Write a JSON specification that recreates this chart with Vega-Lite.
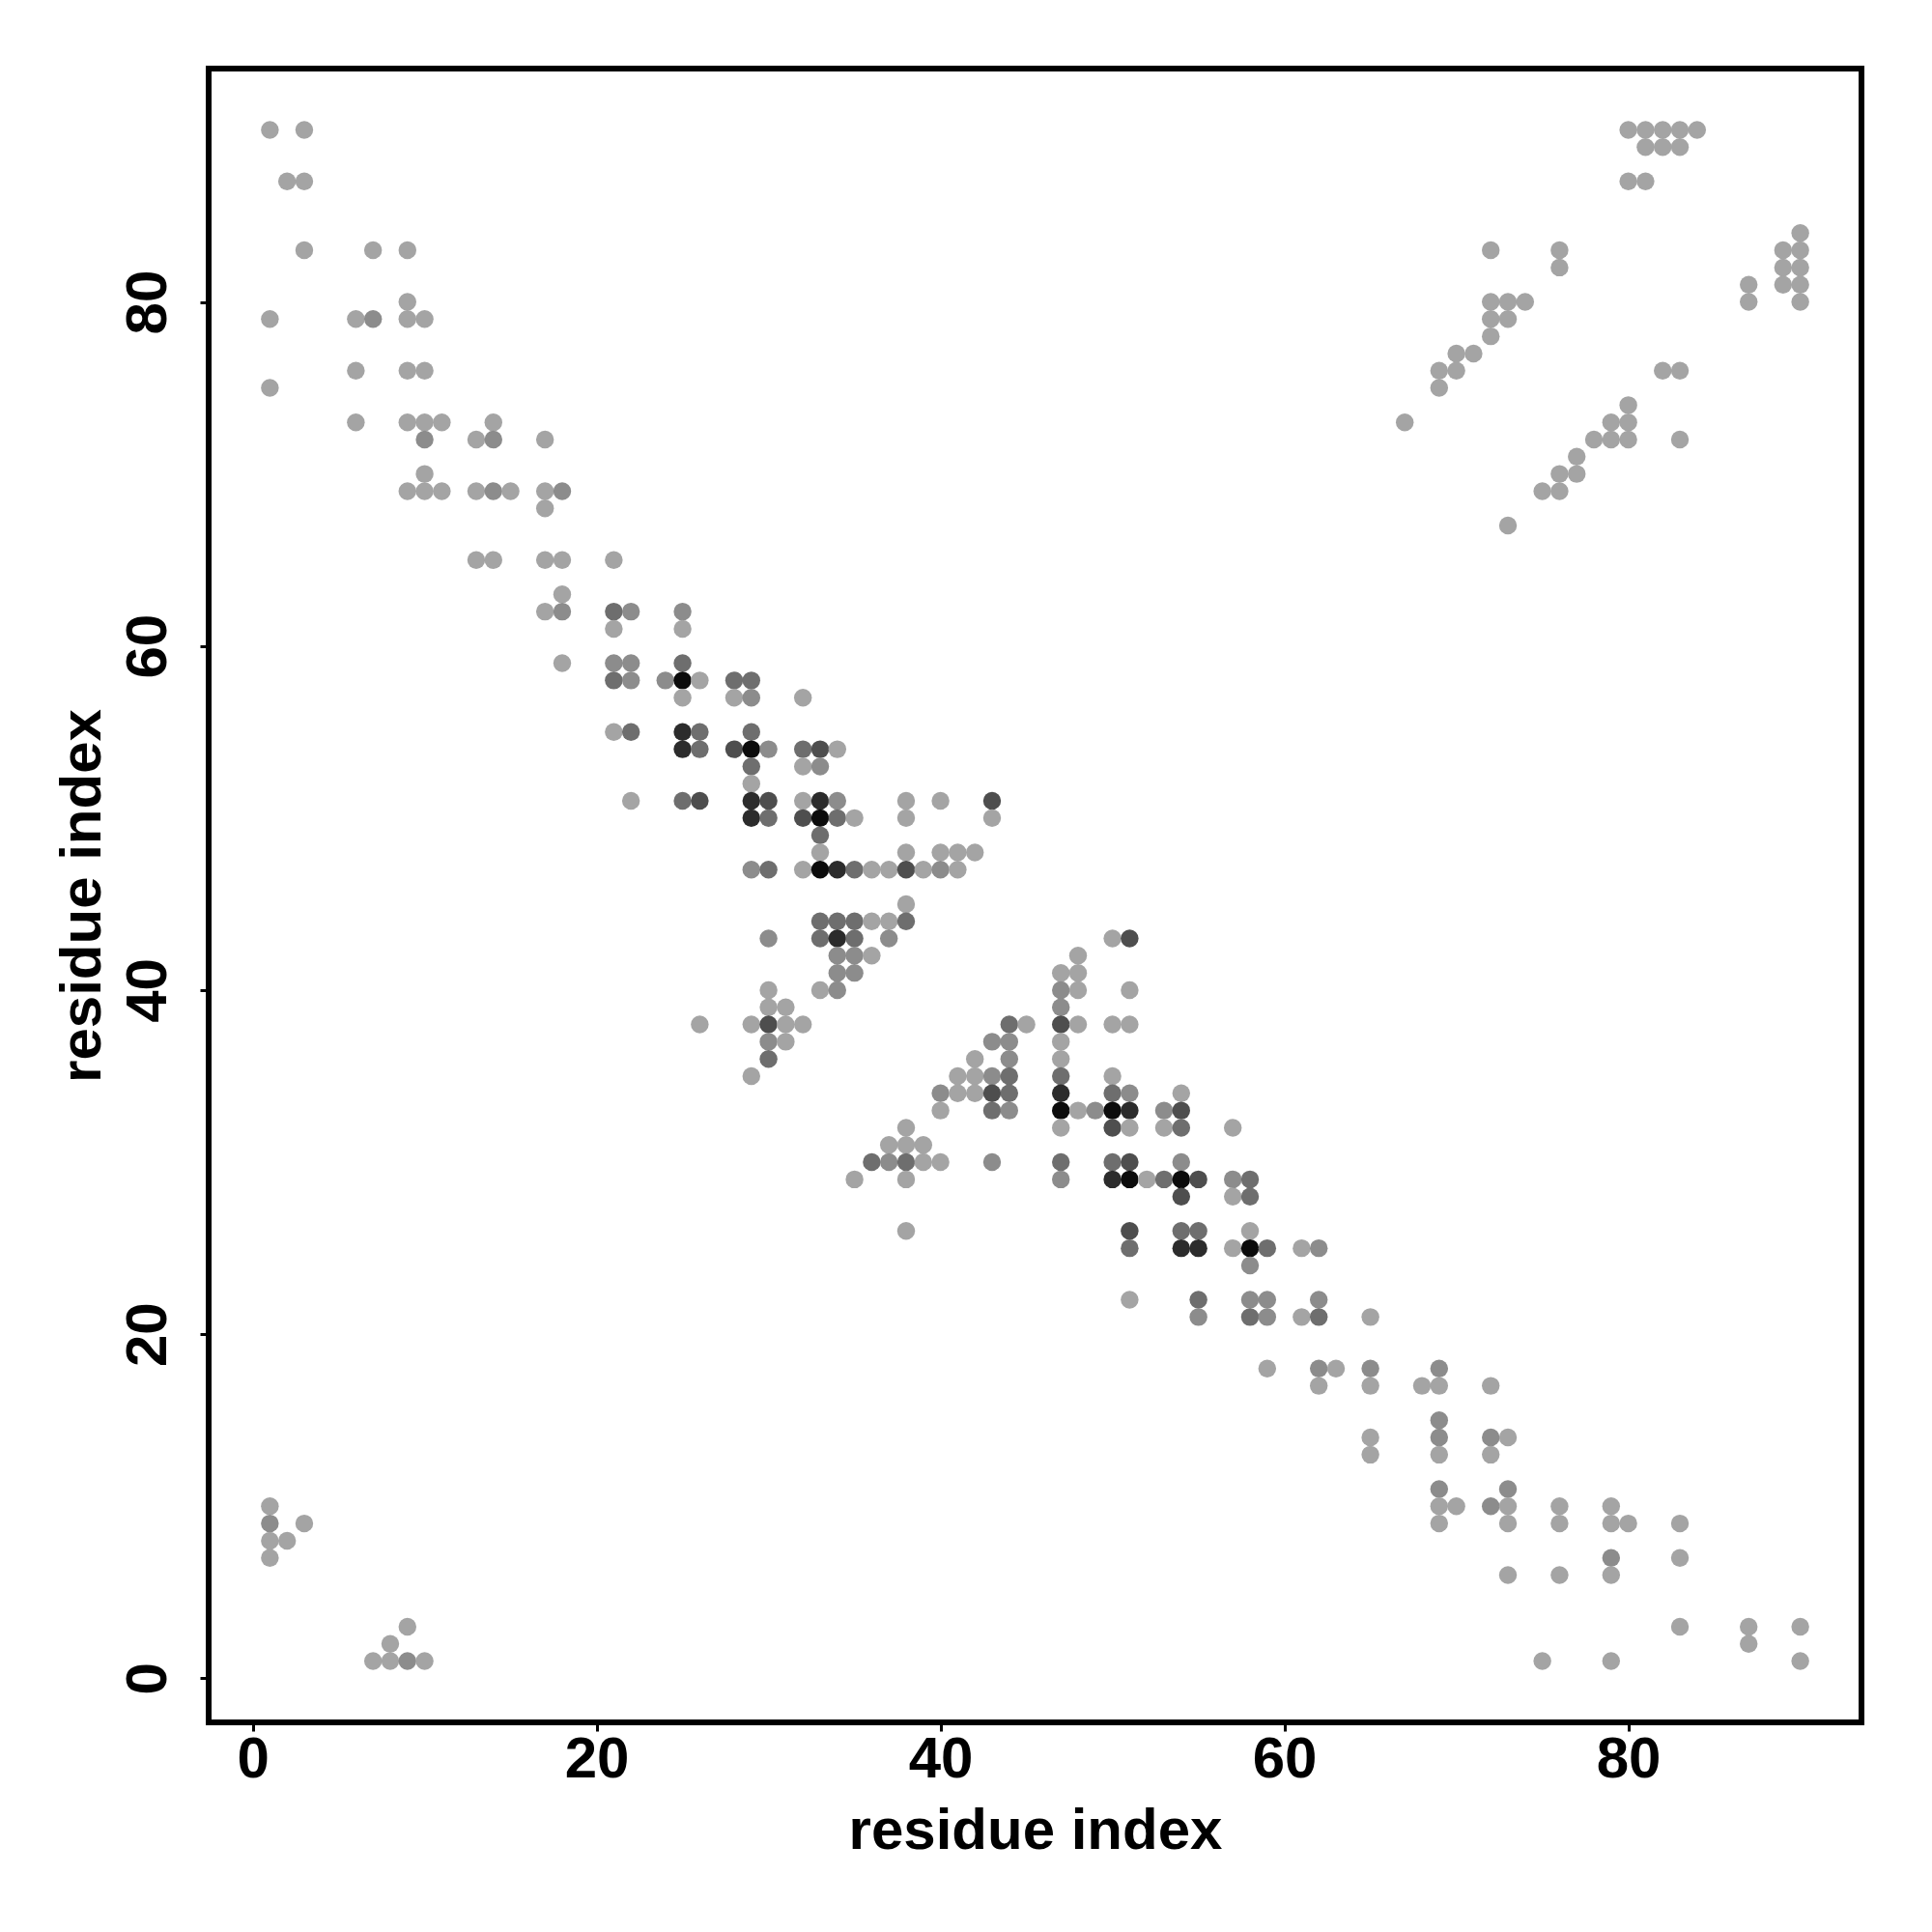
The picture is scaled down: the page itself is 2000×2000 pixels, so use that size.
{
  "$schema": "https://vega.github.io/schema/vega-lite/v6.json",
  "width": 1711,
  "height": 1712,
  "autosize": {"type": "none"},
  "padding": {"left": 216, "top": 71, "right": 73, "bottom": 217},
  "background": "white",
  "config": {
    "view": {"stroke": "black", "strokeWidth": 6},
    "axis": {
      "domain": false, "grid": false, "ticks": true,
      "tickColor": "black", "tickWidth": 3, "tickSize": 9,
      "labelFont": "Liberation Sans", "labelFontSize": 60, "labelFontWeight": "bold", "labelColor": "black",
      "titleFont": "Liberation Sans", "titleFontSize": 60, "titleFontWeight": "bold", "titleColor": "black"
    }
  },
  "data": {"values": [
    {"i":1,"j":90,"n":1},{"i":3,"j":90,"n":1},{"i":2,"j":87,"n":1},{"i":3,"j":87,"n":1},{"i":3,"j":83,"n":1},{"i":7,"j":83,"n":1},{"i":9,"j":83,"n":1},{"i":9,"j":80,"n":1},
    {"i":1,"j":79,"n":1},{"i":6,"j":79,"n":1},{"i":7,"j":79,"n":2},{"i":9,"j":79,"n":1},{"i":10,"j":79,"n":1},
    {"i":6,"j":76,"n":1},{"i":9,"j":76,"n":1},{"i":10,"j":76,"n":1},{"i":1,"j":75,"n":1},
    {"i":6,"j":73,"n":1},{"i":9,"j":73,"n":1},{"i":10,"j":73,"n":1},{"i":11,"j":73,"n":1},{"i":14,"j":73,"n":1},
    {"i":10,"j":72,"n":2},{"i":13,"j":72,"n":1},{"i":14,"j":72,"n":2},{"i":17,"j":72,"n":1},
    {"i":10,"j":70,"n":1},
    {"i":9,"j":69,"n":1},{"i":10,"j":69,"n":1},{"i":11,"j":69,"n":1},{"i":13,"j":69,"n":1},{"i":14,"j":69,"n":2},{"i":15,"j":69,"n":1},{"i":17,"j":69,"n":1},{"i":18,"j":69,"n":2},
    {"i":17,"j":68,"n":1},
    {"i":13,"j":65,"n":1},{"i":14,"j":65,"n":1},{"i":17,"j":65,"n":1},{"i":18,"j":65,"n":1},{"i":21,"j":65,"n":1},
    {"i":18,"j":63,"n":1},
    {"i":17,"j":62,"n":1},{"i":18,"j":62,"n":2},{"i":21,"j":62,"n":3},{"i":22,"j":62,"n":2},{"i":25,"j":62,"n":2},
    {"i":21,"j":61,"n":1},{"i":25,"j":61,"n":1},
    {"i":18,"j":59,"n":1},{"i":21,"j":59,"n":2},{"i":22,"j":59,"n":2},{"i":25,"j":59,"n":3},
    {"i":21,"j":58,"n":3},{"i":22,"j":58,"n":2},{"i":24,"j":58,"n":2},{"i":25,"j":58,"n":6},{"i":26,"j":58,"n":1},{"i":28,"j":58,"n":3},{"i":29,"j":58,"n":3},
    {"i":25,"j":57,"n":1},{"i":28,"j":57,"n":1},{"i":29,"j":57,"n":2},{"i":32,"j":57,"n":1},
    {"i":21,"j":55,"n":1},{"i":22,"j":55,"n":3},{"i":25,"j":55,"n":5},{"i":26,"j":55,"n":3},{"i":29,"j":55,"n":3},
    {"i":25,"j":54,"n":5},{"i":26,"j":54,"n":3},{"i":28,"j":54,"n":4},{"i":29,"j":54,"n":6},{"i":30,"j":54,"n":2},{"i":32,"j":54,"n":3},{"i":33,"j":54,"n":4},{"i":34,"j":54,"n":1},
    {"i":29,"j":53,"n":3},{"i":32,"j":53,"n":1},{"i":33,"j":53,"n":2},
    {"i":29,"j":52,"n":1},
    {"i":22,"j":51,"n":1},{"i":25,"j":51,"n":3},{"i":26,"j":51,"n":4},{"i":29,"j":51,"n":5},{"i":30,"j":51,"n":4},{"i":32,"j":51,"n":1},{"i":33,"j":51,"n":5},{"i":34,"j":51,"n":2},{"i":38,"j":51,"n":1},{"i":40,"j":51,"n":1},{"i":43,"j":51,"n":4},
    {"i":29,"j":50,"n":5},{"i":30,"j":50,"n":3},{"i":32,"j":50,"n":4},{"i":33,"j":50,"n":6},{"i":34,"j":50,"n":3},{"i":35,"j":50,"n":1},{"i":38,"j":50,"n":1},{"i":43,"j":50,"n":1},
    {"i":33,"j":49,"n":3},
    {"i":33,"j":48,"n":1},{"i":38,"j":48,"n":1},{"i":40,"j":48,"n":1},{"i":41,"j":48,"n":1},{"i":42,"j":48,"n":1},
    {"i":29,"j":47,"n":2},{"i":30,"j":47,"n":3},{"i":32,"j":47,"n":1},{"i":33,"j":47,"n":6},{"i":34,"j":47,"n":5},{"i":35,"j":47,"n":3},{"i":36,"j":47,"n":1},{"i":37,"j":47,"n":1},{"i":38,"j":47,"n":4},{"i":39,"j":47,"n":1},{"i":40,"j":47,"n":2},{"i":41,"j":47,"n":1},
    {"i":38,"j":45,"n":1},
    {"i":33,"j":44,"n":3},{"i":34,"j":44,"n":3},{"i":35,"j":44,"n":3},{"i":36,"j":44,"n":1},{"i":37,"j":44,"n":1},{"i":38,"j":44,"n":3},
    {"i":30,"j":43,"n":2},{"i":33,"j":43,"n":3},{"i":34,"j":43,"n":5},{"i":35,"j":43,"n":3},{"i":37,"j":43,"n":2},
    {"i":34,"j":42,"n":2},{"i":35,"j":42,"n":2},{"i":36,"j":42,"n":1},
    {"i":34,"j":41,"n":2},{"i":35,"j":41,"n":2},
    {"i":30,"j":40,"n":1},{"i":33,"j":40,"n":1},{"i":34,"j":40,"n":2},
    {"i":30,"j":39,"n":1},{"i":31,"j":39,"n":1},
    {"i":26,"j":38,"n":1},{"i":29,"j":38,"n":1},{"i":30,"j":38,"n":4},{"i":31,"j":38,"n":1},{"i":32,"j":38,"n":1},
    {"i":30,"j":37,"n":2},{"i":31,"j":37,"n":1},
    {"i":30,"j":36,"n":3},
    {"i":29,"j":35,"n":1},
    {"i":44,"j":38,"n":3},{"i":45,"j":38,"n":1},
    {"i":43,"j":37,"n":2},{"i":44,"j":37,"n":2},
    {"i":42,"j":36,"n":1},{"i":44,"j":36,"n":2},
    {"i":41,"j":35,"n":1},{"i":42,"j":35,"n":1},{"i":43,"j":35,"n":2},{"i":44,"j":35,"n":3},
    {"i":40,"j":34,"n":2},{"i":41,"j":34,"n":1},{"i":42,"j":34,"n":1},{"i":43,"j":34,"n":4},{"i":44,"j":34,"n":3},
    {"i":40,"j":33,"n":1},{"i":43,"j":33,"n":3},{"i":44,"j":33,"n":2},
    {"i":38,"j":32,"n":1},
    {"i":37,"j":31,"n":1},{"i":38,"j":31,"n":1},{"i":39,"j":31,"n":1},
    {"i":36,"j":30,"n":3},{"i":37,"j":30,"n":2},{"i":38,"j":30,"n":3},{"i":39,"j":30,"n":1},{"i":40,"j":30,"n":1},{"i":43,"j":30,"n":2},
    {"i":35,"j":29,"n":1},{"i":38,"j":29,"n":1},
    {"i":38,"j":26,"n":1},
    {"i":50,"j":43,"n":1},{"i":51,"j":43,"n":4},
    {"i":48,"j":42,"n":1},
    {"i":47,"j":41,"n":1},{"i":48,"j":41,"n":1},
    {"i":47,"j":40,"n":2},{"i":48,"j":40,"n":1},{"i":51,"j":40,"n":1},
    {"i":47,"j":39,"n":2},
    {"i":47,"j":38,"n":4},{"i":48,"j":38,"n":1},{"i":50,"j":38,"n":1},{"i":51,"j":38,"n":1},
    {"i":47,"j":37,"n":1},{"i":47,"j":36,"n":1},
    {"i":47,"j":35,"n":3},{"i":50,"j":35,"n":1},
    {"i":47,"j":34,"n":5},{"i":50,"j":34,"n":3},{"i":51,"j":34,"n":2},{"i":54,"j":34,"n":1},
    {"i":47,"j":33,"n":6},{"i":48,"j":33,"n":1},{"i":49,"j":33,"n":2},{"i":50,"j":33,"n":6},{"i":51,"j":33,"n":5},{"i":53,"j":33,"n":2},{"i":54,"j":33,"n":4},
    {"i":47,"j":32,"n":1},{"i":50,"j":32,"n":4},{"i":51,"j":32,"n":1},{"i":53,"j":32,"n":1},{"i":54,"j":32,"n":3},{"i":57,"j":32,"n":1},
    {"i":47,"j":30,"n":3},{"i":50,"j":30,"n":3},{"i":51,"j":30,"n":4},{"i":54,"j":30,"n":2},
    {"i":47,"j":29,"n":2},{"i":50,"j":29,"n":5},{"i":51,"j":29,"n":6},{"i":52,"j":29,"n":1},{"i":53,"j":29,"n":3},{"i":54,"j":29,"n":6},{"i":55,"j":29,"n":4},{"i":57,"j":29,"n":2},{"i":58,"j":29,"n":3},
    {"i":54,"j":28,"n":4},{"i":57,"j":28,"n":1},{"i":58,"j":28,"n":3},
    {"i":51,"j":26,"n":4},{"i":54,"j":26,"n":3},{"i":55,"j":26,"n":3},{"i":58,"j":26,"n":1},
    {"i":51,"j":25,"n":3},{"i":54,"j":25,"n":5},{"i":55,"j":25,"n":5},{"i":57,"j":25,"n":1},{"i":58,"j":25,"n":6},{"i":59,"j":25,"n":3},{"i":61,"j":25,"n":1},{"i":62,"j":25,"n":2},
    {"i":58,"j":24,"n":2},
    {"i":51,"j":22,"n":1},{"i":55,"j":22,"n":3},{"i":58,"j":22,"n":2},{"i":59,"j":22,"n":2},{"i":62,"j":22,"n":2},
    {"i":55,"j":21,"n":2},{"i":58,"j":21,"n":3},{"i":59,"j":21,"n":2},{"i":61,"j":21,"n":1},{"i":62,"j":21,"n":3},{"i":65,"j":21,"n":1},
    {"i":59,"j":18,"n":1},{"i":62,"j":18,"n":2},{"i":63,"j":18,"n":1},{"i":65,"j":18,"n":2},{"i":69,"j":18,"n":2},
    {"i":62,"j":17,"n":1},{"i":65,"j":17,"n":1},{"i":68,"j":17,"n":1},{"i":69,"j":17,"n":1},{"i":72,"j":17,"n":1},
    {"i":69,"j":15,"n":2},{"i":65,"j":14,"n":1},{"i":69,"j":14,"n":2},{"i":72,"j":14,"n":2},{"i":73,"j":14,"n":1},
    {"i":65,"j":13,"n":1},{"i":69,"j":13,"n":1},{"i":72,"j":13,"n":1},
    {"i":69,"j":11,"n":2},{"i":73,"j":11,"n":2},
    {"i":69,"j":10,"n":1},{"i":70,"j":10,"n":1},{"i":72,"j":10,"n":2},{"i":73,"j":10,"n":1},{"i":76,"j":10,"n":1},{"i":79,"j":10,"n":1},
    {"i":69,"j":9,"n":1},{"i":73,"j":9,"n":1},{"i":76,"j":9,"n":1},{"i":79,"j":9,"n":1},{"i":80,"j":9,"n":1},{"i":83,"j":9,"n":1},
    {"i":79,"j":7,"n":2},{"i":83,"j":7,"n":1},
    {"i":73,"j":6,"n":1},{"i":76,"j":6,"n":1},{"i":79,"j":6,"n":1},
    {"i":83,"j":3,"n":1},{"i":87,"j":3,"n":1},{"i":90,"j":3,"n":1},{"i":87,"j":2,"n":1},
    {"i":75,"j":1,"n":1},{"i":79,"j":1,"n":1},{"i":90,"j":1,"n":1},
    {"i":80,"j":90,"n":1},{"i":81,"j":90,"n":1},{"i":82,"j":90,"n":1},{"i":83,"j":90,"n":1},{"i":84,"j":90,"n":1},
    {"i":81,"j":89,"n":1},{"i":82,"j":89,"n":1},{"i":83,"j":89,"n":1},
    {"i":80,"j":87,"n":1},{"i":81,"j":87,"n":1},
    {"i":90,"j":84,"n":1},
    {"i":72,"j":83,"n":1},{"i":76,"j":83,"n":1},{"i":89,"j":83,"n":1},{"i":90,"j":83,"n":1},
    {"i":76,"j":82,"n":1},{"i":89,"j":82,"n":1},{"i":90,"j":82,"n":1},
    {"i":87,"j":81,"n":1},{"i":89,"j":81,"n":1},{"i":90,"j":81,"n":1},
    {"i":72,"j":80,"n":1},{"i":73,"j":80,"n":1},{"i":74,"j":80,"n":1},{"i":87,"j":80,"n":1},{"i":90,"j":80,"n":1},
    {"i":72,"j":79,"n":1},{"i":73,"j":79,"n":1},
    {"i":72,"j":78,"n":1},
    {"i":70,"j":77,"n":1},{"i":71,"j":77,"n":1},
    {"i":69,"j":76,"n":1},{"i":70,"j":76,"n":1},{"i":82,"j":76,"n":1},{"i":83,"j":76,"n":1},
    {"i":69,"j":75,"n":1},
    {"i":80,"j":74,"n":1},
    {"i":67,"j":73,"n":1},{"i":79,"j":73,"n":1},{"i":80,"j":73,"n":1},
    {"i":78,"j":72,"n":1},{"i":79,"j":72,"n":1},{"i":80,"j":72,"n":1},{"i":83,"j":72,"n":1},
    {"i":77,"j":71,"n":1},
    {"i":76,"j":70,"n":1},{"i":77,"j":70,"n":1},
    {"i":75,"j":69,"n":1},{"i":76,"j":69,"n":1},
    {"i":73,"j":67,"n":1},
    {"i":1,"j":10,"n":1},{"i":1,"j":9,"n":2},{"i":1,"j":8,"n":1},{"i":2,"j":8,"n":1},{"i":3,"j":9,"n":1},{"i":1,"j":7,"n":1},
    {"i":9,"j":3,"n":1},{"i":8,"j":2,"n":1},
    {"i":7,"j":1,"n":1},{"i":8,"j":1,"n":1},{"i":9,"j":1,"n":2},{"i":10,"j":1,"n":1}
  ]},
  "mark": {"type": "circle", "size": 340, "opacity": 1, "strokeWidth": 0},
  "encoding": {
    "x": {
      "field": "i", "type": "quantitative",
      "scale": {"domain": [-2.56, 93.56], "nice": false, "zero": false},
      "axis": {
        "values": [0, 20, 40, 60, 80], "title": "residue index",
        "labelBaseline": "alphabetic", "labelPadding": 47, "labelAlign": "center",
        "titleBaseline": "alphabetic", "titleY": 130, "titleAlign": "center"
      }
    },
    "y": {
      "field": "j", "type": "quantitative",
      "scale": {"domain": [-2.56, 93.56], "nice": false, "zero": false},
      "axis": {
        "values": [0, 20, 40, 60, 80], "title": "residue index",
        "labelAngle": -90, "labelAlign": "center", "labelBaseline": "alphabetic", "labelPadding": 36,
        "titleAngle": -90, "titleBaseline": "alphabetic", "titleAlign": "center", "titleX": -113, "titleY": 856
      }
    },
    "color": {
      "field": "n", "type": "ordinal",
      "scale": {"domain": [1, 2, 3, 4, 5, 6], "range": ["#a4a4a4", "#8c8c8c", "#6e6e6e", "#4e4e4e", "#2c2c2c", "#0c0c0c"]},
      "legend": null
    }
  }
}
